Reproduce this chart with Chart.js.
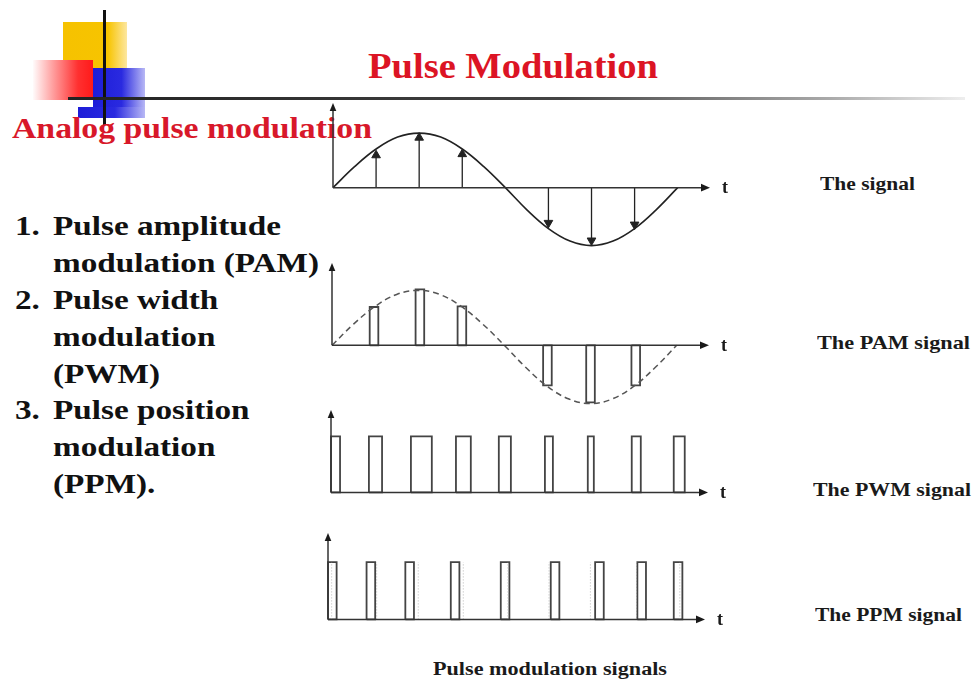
<!DOCTYPE html>
<html>
<head>
<meta charset="utf-8">
<script src="https://cdn.jsdelivr.net/npm/chart.js@4.4.1/dist/chart.umd.min.js"></script>
<style>
  html, body { margin:0; padding:0; background:#fff; }
  body { width:972px; height:682px; position:relative; overflow:hidden; font-family:"Liberation Serif","Times New Roman",serif; }
  .t { position:absolute; white-space:nowrap; line-height:1; transform-origin:0 0; font-weight:bold; }
  canvas { position:absolute; }
  .blk { position:absolute; }
</style>
</head>
<body>

<!-- slide logo -->
<div class="blk" style="left:63px;top:22px;width:64px;height:48px;background:linear-gradient(to right,#f6c200 0%,#f7c400 70%,#fde7a0 100%);"></div>
<div class="blk" style="left:33px;top:60px;width:60px;height:40px;background:linear-gradient(to right,rgba(255,235,235,0.2) 0%,#ff9a9a 35%,#ff3030 75%,#ff1a1a 100%);"></div>
<div class="blk" style="left:93px;top:68px;width:52px;height:40px;background:linear-gradient(to right,#1d1dd8 0%,#2a2ae0 55%,#b8b8f5 100%);"></div>
<div class="blk" style="left:78px;top:107px;width:67px;height:11px;background:linear-gradient(to right,#1d1dd8 0%,#2a2ae0 55%,#b8b8f5 100%);"></div>
<div class="blk" style="left:103px;top:10px;width:3px;height:115px;background:#111;"></div>
<div class="blk" style="left:68px;top:97px;width:897px;height:3px;background:linear-gradient(to right,#222 0%,#444 55%,#aaa 85%,#eee 100%);"></div>

<div class="t" data-w="290" style="left:368px;top:48.7px;font-size:35px;color:#dc1424;">Pulse Modulation</div>
<div class="t" data-w="360" style="left:12px;top:113px;font-size:30px;color:#d8182a;">Analog pulse modulation</div>

<div id="list"></div>

<div class="t" data-w="95" style="left:820px;top:174px;font-size:19px;color:#1a1a1a;">The signal</div>
<div class="t" data-w="153" style="left:817px;top:333px;font-size:19px;color:#1a1a1a;">The PAM signal</div>
<div class="t" data-w="158" style="left:813px;top:480px;font-size:19px;color:#1a1a1a;">The PWM signal</div>
<div class="t" data-w="147" style="left:815px;top:605px;font-size:19px;color:#1a1a1a;">The PPM signal</div>
<div class="t" data-w="234" style="left:433px;top:660px;font-size:18px;color:#1a1a1a;">Pulse modulation signals</div>

<canvas id="sig"></canvas>
<canvas id="pam"></canvas>
<canvas id="pwm"></canvas>
<canvas id="ppm"></canvas>

<script>
// time in sample units, one pulse slot = 2 units
const signalT = [0, 1, 2, 3, 4, 5, 6, 7, 8, 9, 10, 11, 12, 13, 14, 15, 16];
const signalV = [0, 0.37, 0.68, 0.89, 0.96, 0.89, 0.68, 0.37, 0, -0.39, -0.72, -0.94, -1.02, -0.94, -0.72, -0.39, 0];

const sampleT = [2, 4, 6, 10, 12, 14];
const sampleV = [0.57, 0.88, 0.59, -0.62, -0.93, -0.65];

const pamT = [1.95, 4.08, 6.03, 10.0, 12.0, 14.1];
const pamV = [0.67, 0.98, 0.68, -0.70, -1.0, -0.70];
const pamWidth = 0.4;

const pwmStart = [0.0, 1.76, 3.71, 5.80, 7.79, 9.93, 11.92, 13.96, 15.91];
const pwmEnd   = [0.42, 2.37, 4.68, 6.49, 8.35, 10.30, 12.20, 14.38, 16.42];
const pwmLevel = 0.98;

const ppmStart = [0.0, 1.79, 3.59, 5.70, 8.02, 10.34, 12.40, 14.36, 16.05];
const ppmWidth = 0.4;
const ppmLevel = 1.0;
const ppmRef = [0.17, 2.26, 4.19, 6.28, 8.35, 10.26, 12.18, 14.32, 16.33];

const listItems = [
  ['1.', 'Pulse amplitude'], ['', 'modulation (PAM)'],
  ['2.', 'Pulse width'], ['', 'modulation'], ['', '(PWM)'],
  ['3.', 'Pulse position'], ['', 'modulation'], ['', '(PPM).']
];

// list text
const list = document.getElementById('list');
listItems.forEach((it, i) => {
  const top = 235.5 + i * 36.9 - 22.6;
  if (it[0]) {
    const n = document.createElement('div');
    n.className = 't';
    n.style.cssText = `left:15px;top:${top}px;font-size:27px;color:#111;transform:scaleX(1.23)`;
    n.textContent = it[0];
    list.appendChild(n);
  }
  const d = document.createElement('div');
  d.className = 't';
  d.style.cssText = `left:53px;top:${top}px;font-size:27px;color:#111;transform:scaleX(1.23)`;
  d.textContent = it[1];
  list.appendChild(d);
});

document.querySelectorAll('[data-w]').forEach(el => {
  const w = el.getBoundingClientRect().width;
  el.style.transform = `scaleX(${el.dataset.w / w})`;
});

const axisArrows = {
  id: 'axisArrows',
  afterDatasetsDraw(chart, args, opts) {
    const {ctx, scales: {x, y}} = chart;
    const ox = x.getPixelForValue(0), oy = y.getPixelForValue(0);
    const ex = x.getPixelForValue(x.max), ty = y.getPixelForValue(y.max);
    ctx.save();
    ctx.strokeStyle = '#333';
    ctx.fillStyle = '#1a1a1a';
    ctx.lineWidth = 1.5;
    ctx.beginPath();
    ctx.moveTo(ox, oy); ctx.lineTo(ex - 4, oy);
    ctx.moveTo(ox, oy); ctx.lineTo(ox, ty + 4);
    ctx.stroke();
    ctx.beginPath();
    ctx.moveTo(ex, oy); ctx.lineTo(ex - 9, oy - 3.8); ctx.lineTo(ex - 9, oy + 3.8);
    ctx.closePath(); ctx.fill();
    ctx.beginPath();
    ctx.moveTo(ox, ty); ctx.lineTo(ox - 3.3, ty + 8); ctx.lineTo(ox + 3.3, ty + 8);
    ctx.closePath(); ctx.fill();
    ctx.font = 'bold 18px "Liberation Serif"';
    ctx.textBaseline = 'middle';
    ctx.fillText(opts.label, ex + 12, oy + 1);
    ctx.restore();
  }
};

const unitX = 21.56, unitY = 57, xMax = 17.5;
const pad = {left: 10, right: 36, top: 8, bottom: 6};

function outline(starts, ends, tops) {
  const pts = [];
  starts.forEach((s, i) => {
    const e = ends[i], h = tops[i];
    pts.push({x: s, y: 0}, {x: s, y: h}, {x: e, y: h}, {x: e, y: 0}, {x: s, y: 0}, {x: e, y: null});
  });
  return pts;
}

function makeChart(id, x0, base, yMin, yMax, datasets) {
  const cv = document.getElementById(id);
  cv.width = Math.round(pad.left + xMax * unitX + pad.right);
  cv.height = Math.round(pad.top + (yMax - yMin) * unitY + pad.bottom);
  cv.style.left = (x0 - pad.left) + 'px';
  cv.style.top = (base - yMax * unitY - pad.top) + 'px';
  return new Chart(cv, {
    type: 'line',
    data: { datasets },
    options: {
      responsive: false,
      animation: false,
      events: [],
      layout: { padding: pad },
      plugins: {
        legend: { display: false },
        tooltip: { enabled: false },
        axisArrows: { label: 't' }
      },
      scales: {
        x: { type: 'linear', min: 0, max: xMax, display: false },
        y: { type: 'linear', min: yMin, max: yMax, display: false }
      },
      elements: { point: { radius: 0 }, line: { borderJoinStyle: 'miter' } }
    },
    plugins: [axisArrows]
  });
}

const signalPts = signalT.map((t, i) => ({x: t, y: signalV[i]}));

const arrowPts = [];
sampleT.forEach((t, i) => arrowPts.push({x: t, y: 0}, {x: t, y: sampleV[i]}, {x: t, y: null}));

makeChart('sig', 333, 188, -1.15, 1.49, [
  { data: signalPts, borderColor: '#222', borderWidth: 1.6, tension: 0.4, clip: false },
  { data: arrowPts, borderColor: '#222', borderWidth: 1.3, clip: false,
    pointStyle: 'triangle',
    pointRadius: c => (c.dataIndex % 3 === 1 ? 5 : 0),
    pointRotation: c => (c.raw && c.raw.y < 0 ? 180 : 0),
    pointBackgroundColor: '#222', pointBorderColor: '#222', pointBorderWidth: 1 }
]);

makeChart('pam', 332, 345, -1.15, 1.44, [
  { data: signalPts, borderColor: '#555', borderWidth: 1.5, borderDash: [6, 4], tension: 0.4, clip: false },
  { data: outline(pamT.map(t => t - pamWidth / 2), pamT.map(t => t + pamWidth / 2), pamV),
    borderColor: '#444', borderWidth: 1.8, clip: false }
]);

makeChart('pwm', 331, 492, -0.15, 1.44, [
  { data: outline(pwmStart, pwmEnd, pwmStart.map(() => pwmLevel)),
    borderColor: '#444', borderWidth: 1.8, clip: false }
]);

const refPts = [];
ppmRef.forEach(r => refPts.push({x: r, y: 0}, {x: r, y: ppmLevel}, {x: r, y: null}));

makeChart('ppm', 328, 619, -0.15, 1.51, [
  { data: refPts, borderColor: '#b8b8b8', borderWidth: 1, borderDash: [1, 2], clip: false },
  { data: outline(ppmStart, ppmStart.map(s => s + ppmWidth), ppmStart.map(() => ppmLevel)),
    borderColor: '#444', borderWidth: 1.8, clip: false }
]);
</script>
</body>
</html>
